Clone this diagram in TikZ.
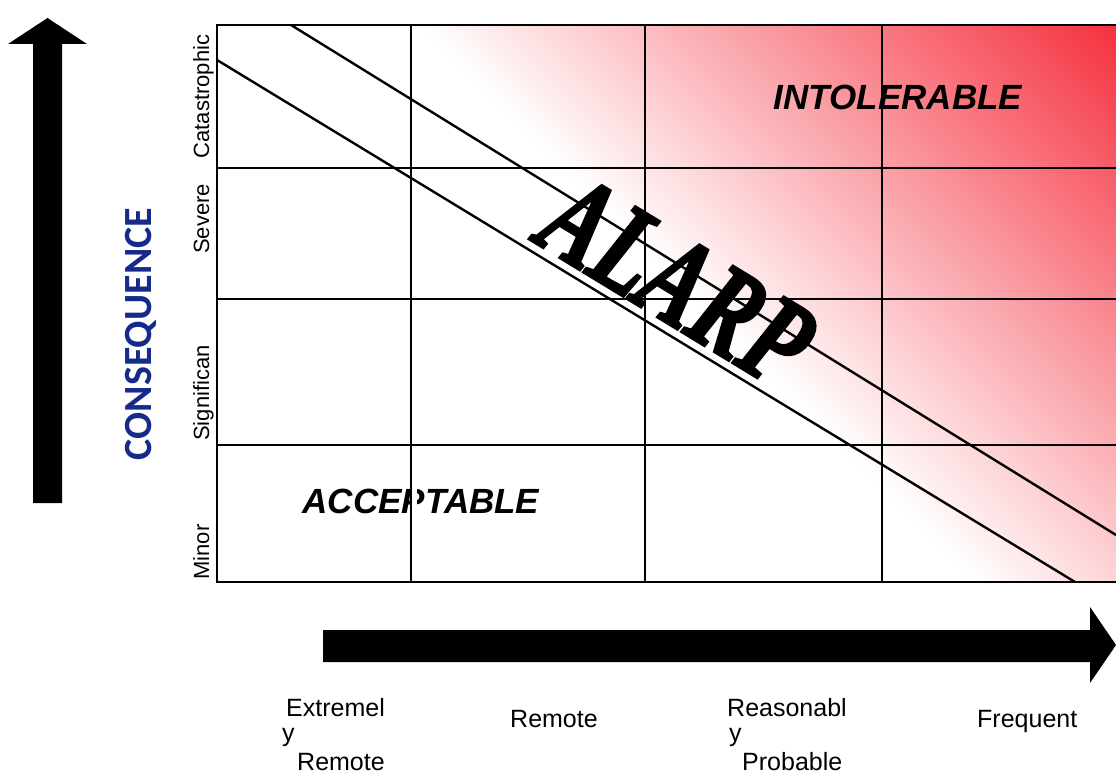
\documentclass[tikz,border=0pt]{standalone}
\usepackage{fontspec}
\setmainfont{Liberation Sans}
\newfontfamily\alarpfont[FakeBold=2.5]{Liberation Serif}
\newfontfamily\consfont{Carlito}
\definecolor{riskred}{RGB}{245,48,62}
\definecolor{consblue}{RGB}{22,42,140}
\begin{document}
\begin{tikzpicture}[x=1pt,y=-1pt,
  gridline/.style={line width=2.9pt, black, line cap=rect},
  diagline/.style={line width=2.4pt, black},
  ylabel/.style={font=\fontsize{22}{22}\selectfont, rotate=90, anchor=base, inner sep=0pt},
  xlabel/.style={font=\fontsize{25}{25}\selectfont, anchor=base west, inner sep=0pt},
  zone/.style={font=\fontsize{35}{35}\selectfont\bfseries\itshape, anchor=base, inner sep=0pt},
  bigarrow/.style={fill=black}]
\useasboundingbox (0,0) rectangle (1116,775);

% gradient of the risk field
\begin{scope}
  \clip (217,25) rectangle (1116,582);
  \foreach \i in {0,...,140} {
    \pgfmathsetmacro\gp{390+5*\i}
    \pgfmathsetmacro\gt{min(100,0.71327*\i)}
    \fill[riskred!\gt!white] (\gp,0) -- (3000,0) -- (3000,700) -- (\gp+700,700) -- cycle;
  }
\end{scope}

% zone texts
\node[zone] (intol) at (898,110) {INTOLERABLE};
\node[zone] (accept) at (421,513) {ACCEPTABLE};
\fill[white] (411,486) rectangle (417,515);

% grid
\foreach \x in {217,411,645,882} \draw[gridline] (\x,25) -- (\x,582);
\foreach \y in {25,168,299,445,582} \draw[gridline] (217,\y) -- (1120,\y);

% ALARP band
\draw[diagline] (291,25) -- (1116,535);
\draw[diagline] (217,60) -- (1075,582);
\node[font=\fontsize{126}{126}\alarpfont\bfseries\itshape, rotate=-31.3, xscale=0.71, anchor=base, inner sep=0pt] (alarp) at (656,316) {ALARP};

% consequence labels
\node[ylabel] (minor) at (209,552) {Minor};
\node[ylabel] (signif) at (209,393) {Significan};
\node[ylabel] (severe) at (209,219) {Severe};
\node[ylabel] (catas) at (209,96.5) {Catastrophic};
\node[font=\fontsize{40}{40}\consfont\bfseries, text=consblue, rotate=90, anchor=base, inner sep=0pt] (cons) at (151,334) {CONSEQUENCE};

% arrows
\fill[bigarrow] (33,503) -- (33,44) -- (8,44) -- (47.5,18) -- (87,44) -- (62,44) -- (62,503) -- cycle;
\fill[bigarrow] (323,630) -- (1090,630) -- (1090,607) -- (1116,645) -- (1090,683) -- (1090,662) -- (323,662) -- cycle;

% likelihood labels
\node[xlabel] (ext1) at (286,716) {Extremel};
\node[xlabel] (ext2) at (282,741) {y};
\node[xlabel] (ext3) at (297,770) {Remote};
\node[xlabel] (rem) at (510,727) {Remote};
\node[xlabel] (rea1) at (727,716) {Reasonabl};
\node[xlabel] (rea2) at (729,741) {y};
\node[xlabel] (rea3) at (742,770) {Probable};
\node[xlabel] (freq) at (977,727) {Frequent};
\end{tikzpicture}
\end{document}
